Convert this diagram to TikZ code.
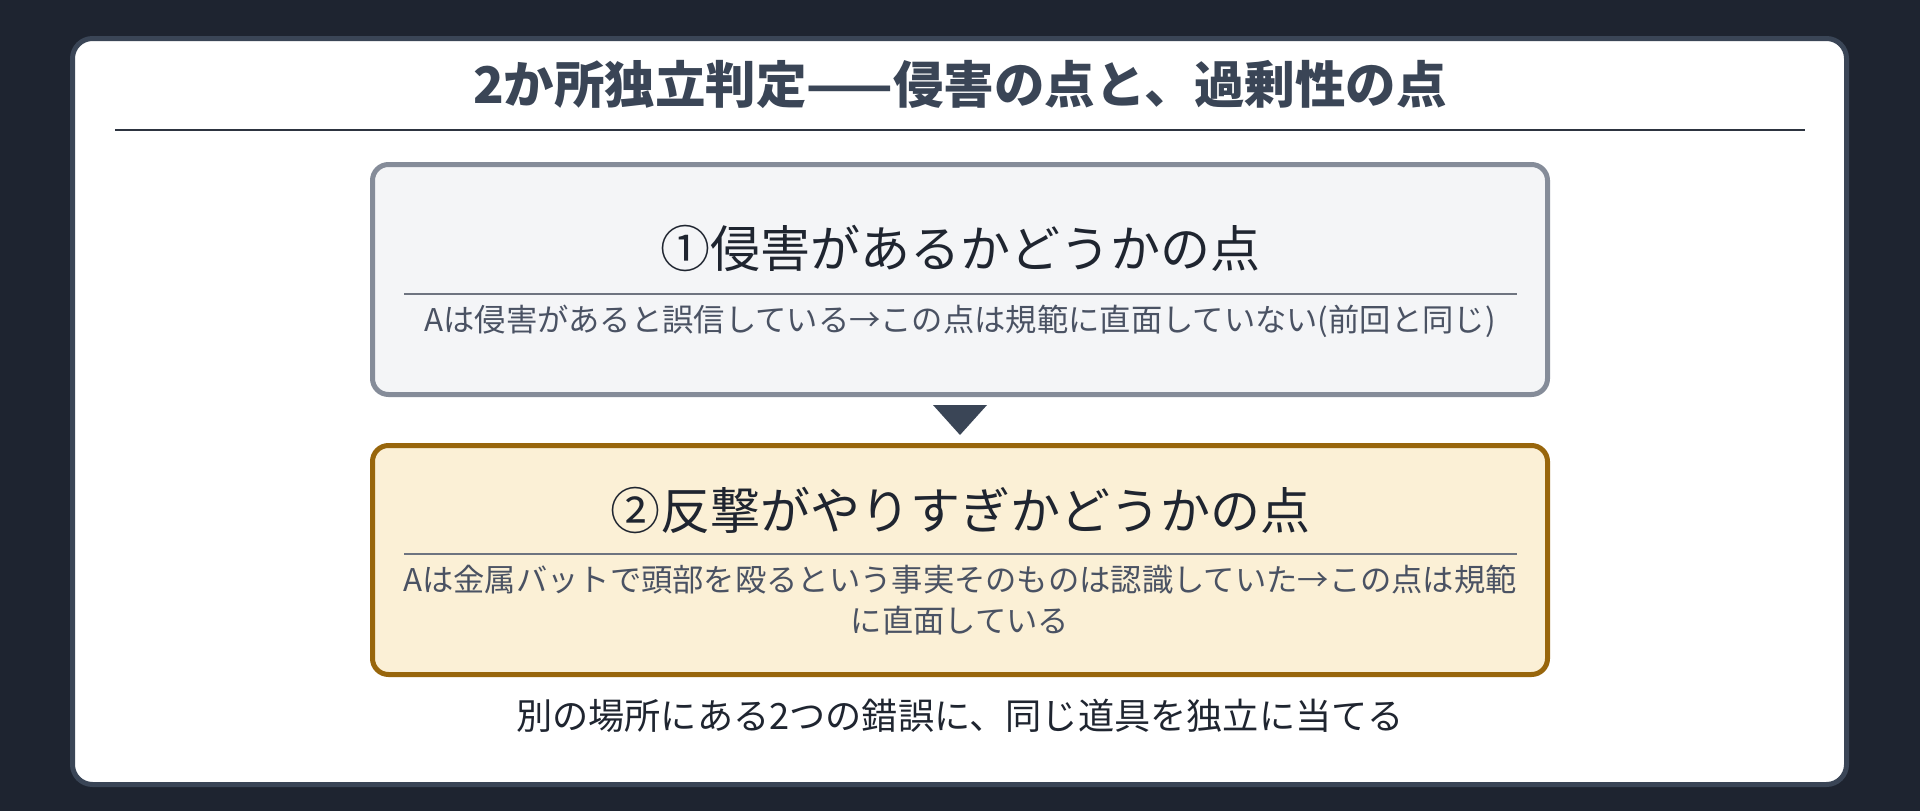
\documentclass[tikz,border=0pt]{standalone}
\usepackage{fontspec}
\setmainfont{Noto Sans CJK JP}
\definecolor{bgdark}{HTML}{1E2430}
\definecolor{cardedge}{HTML}{3A4556}
\definecolor{titlecol}{HTML}{3A4556}
\definecolor{rulecol}{HTML}{2D3440}
\definecolor{oneedge}{HTML}{858C99}
\definecolor{onefill}{HTML}{F4F5F7}
\definecolor{twoedge}{HTML}{98660C}
\definecolor{twofill}{HTML}{FBF0D6}
\definecolor{divcol}{HTML}{6E7480}
\definecolor{headcol}{HTML}{1F2530}
\definecolor{subcol}{HTML}{4A5263}
\tikzset{
  panel/.style={line width=5pt, rounded corners=16pt},
  divider/.style={draw=divcol, line width=2.2pt},
  headtext/.style={anchor=base, inner sep=0pt, text=headcol, font=\fontsize{50}{60}\selectfont},
  subtext/.style={anchor=base, inner sep=0pt, text=subcol, align=center, font=\fontsize{31.3}{41}\selectfont},
}
\begin{document}
\begin{tikzpicture}[x=1pt,y=-1pt]
\fill[bgdark] (0,0) rectangle (1920,811);
\useasboundingbox (0,0) rectangle (1920,811);
% card
\draw[draw=cardedge, fill=white, line width=5pt, rounded corners=20pt] (72.5,38.5) rectangle (1846.5,784.5);
% title
\node[anchor=base, inner sep=0pt, text=titlecol, font=\fontsize{50.5}{60}\selectfont\bfseries] (title) at (960,103) {2か所独立判定——侵害の点と、過剰性の点};
\coordinate (ruleL) at (115,130);
\coordinate (ruleR) at (1805,130);
\draw[draw=rulecol, line width=2.8pt] (ruleL) -- (ruleR);
% box 1
\draw[panel, draw=oneedge, fill=onefill] (372.5,164.5) rectangle (1547.5,394.5);
\node[headtext] (h1) at (960,267) {①侵害があるかどうかの点};
\coordinate (d1L) at (404,294);
\coordinate (d1R) at (1517,294);
\draw[divider] (d1L) -- (d1R);
\node[subtext] (s1) at (960,331) {Aは侵害があると誤信している→この点は規範に直面していない(前回と同じ)};
% arrow
\fill[titlecol] (933,405) -- (987,405) -- (960,435) -- cycle;
% box 2
\draw[panel, draw=twoedge, fill=twofill] (372.5,445.5) rectangle (1547.5,674.5);
\node[headtext] (h2) at (960,529) {②反撃がやりすぎかどうかの点};
\coordinate (d2L) at (404,554);
\coordinate (d2R) at (1517,554);
\draw[divider] (d2L) -- (d2R);
\node[subtext] (s2a) at (960,591) {Aは金属バットで頭部を殴るという事実そのものは認識していた→この点は規範};
\node[subtext] (s2b) at (960,632) {に直面している};
% caption
\node[anchor=base, inner sep=0pt, text=headcol, font=\fontsize{36.2}{42}\selectfont] (cap) at (960,729) {別の場所にある2つの錯誤に、同じ道具を独立に当てる};
\end{tikzpicture}
\end{document}
